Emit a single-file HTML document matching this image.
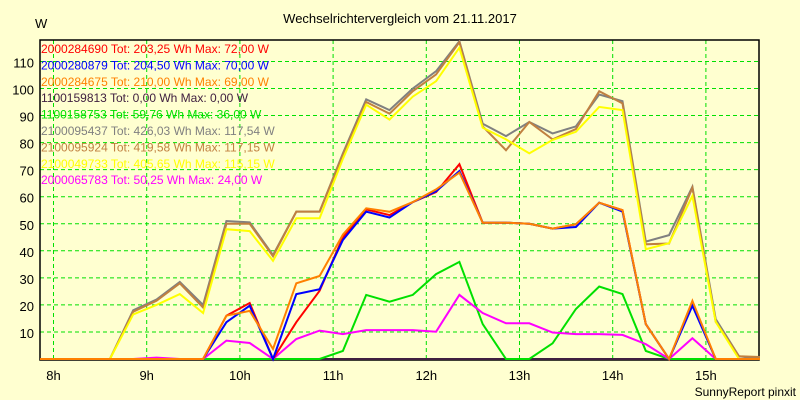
<!DOCTYPE html>
<html><head><meta charset="utf-8"><style>
html,body{margin:0;padding:0;background:#ffffd0;}
svg{display:block;font-family:"Liberation Sans",sans-serif;}
</style></head><body>
<svg id="chart" width="800" height="400">
<rect x="0" y="0" width="800" height="400" fill="#ffffd0"/>
<text x="400" y="23" text-anchor="middle" font-size="13" fill="#000">Wechselrichtervergleich vom 21.11.2017</text>
<text x="35" y="28" font-size="13" fill="#000">W</text>
<g id="grid"></g>
<rect x="40" y="40" width="719" height="320" fill="none" stroke="#000" stroke-width="1.5"/>
<g id="series"></g>
<g id="legend"></g>
<g id="axes"></g>
<text x="796" y="396" text-anchor="end" font-size="12" fill="#000">SunnyReport pinxit</text>
</svg>
<script>
const yTicks = [10,20,30,40,50,60,70,80,90,100,110];
const xHours = [8,9,10,11,12,13,14,15];
const xLabels = ["8h","9h","10h","11h","12h","13h","14h","15h"];
const names = ["2000284690","2000280879","2000284675","1100159813","1100158753","2100095437","2100095924","2100049733","2000065783"];
const legendTexts = ["2000284690 Tot: 203,25 Wh Max: 72,00 W","2000280879 Tot: 204,50 Wh Max: 70,00 W","2000284675 Tot: 210,00 Wh Max: 69,00 W","1100159813 Tot: 0,00 Wh Max: 0,00 W","1100158753 Tot: 59,76 Wh Max: 36,00 W","2100095437 Tot: 426,03 Wh Max: 117,54 W","2100095924 Tot: 419,58 Wh Max: 117,15 W","2100049733 Tot: 405,65 Wh Max: 115,15 W","2000065783 Tot: 50,25 Wh Max: 24,00 W"];
const colors = ["#ff0000","#0000ff","#ff8000","#402040","#00e000","#808080","#c08040","#ffff00","#ff00ff"];
const sRed    = [0,0,0,0,0,0,0,0,16,20.7,0,13.6,25.2,45,55.3,53.2,58,61.7,72,50.4,50.4,50,48.2,49.8,57.8,55,12.9,0,20.5,0,0,0];
const sBlue   = [0,0,0,0,0,0,0,0,13.6,19.7,0,24,25.8,44,54.5,52.3,58,62,69.5,50.4,50.4,50,48.2,48.8,57.8,54.5,12.9,0,19.7,0,0,0];
const sOrange = [0,0,0,0,0,0,0,0,16,17.8,3.7,28,30.7,46,55.7,54.4,58,62.7,68.9,50.4,50.4,50,48.2,49.8,57.8,55,12.9,0,21.5,0,0,0];
const sDark   = [0,0,0,0,0,0,0,0,0,0,0,0,0,0,0,0,0,0,0,0,0,0,0,0,0,0,0,0,0,0,0,0];
const sGreen  = [0,0,0,0,0,0,0,0,0,0,0,0,0,3,23.7,21.2,23.7,31.4,35.9,12.9,0,0,5.8,18.5,26.8,24,3,0,0,0,0,0];
const sGrey   = [0,0,0,0,18,22,28.5,20,51,50.5,38.4,54.5,54.5,76,96,92,100,106.4,117.5,87,82.4,87.6,83.4,86,97.8,95.3,43.4,45.8,63.7,14.8,1,0];
const sBrown  = [0,0,0,0,17.5,21.5,28,19,50,50,38,54.5,54.5,75.5,95,90.7,99,105.2,117.1,86,77.2,87.6,81.2,85,99,94.5,42.4,42.7,63.3,13.8,1,0.7];
const sYellow = [0,0,0,0,16.5,20,24,17,48,47.3,36.3,52,52,74,94,88.5,97,102.7,115.1,85.5,81.2,76,81,84,93.2,92,40.6,42.8,60.3,13.8,0,0];
const sMagenta= [0,0,0,0,0,0.5,0,0,6.8,5.9,0,7.4,10.5,9.2,10.7,10.7,10.7,10.1,23.7,17,13.2,13.2,9.8,9.2,9.2,8.9,5.5,0,7.7,0,0,0];
const allSeries = [sRed,sBlue,sOrange,sDark,sGreen,sGrey,sBrown,sYellow,sMagenta];
const drawOrder = [3,5,6,7,4,8,0,1,2];

const NS="http://www.w3.org/2000/svg";
const xSlot = i => 40 + 23.3*i;
const xHour = h => 53.5 + 93.2*(h-8);
const yVal = v => 359 - 2.705*v;
function mk(tag, attrs, parent){const e=document.createElementNS(NS,tag);for(const k in attrs)e.setAttribute(k,attrs[k]);parent.appendChild(e);return e;}
const grid=document.getElementById('grid'), axes=document.getElementById('axes'), ser=document.getElementById('series'), leg=document.getElementById('legend');
yTicks.forEach(t=>{
  const l=mk('line',{x1:40,x2:759,y1:yVal(t),y2:yVal(t),stroke:'#00e000','stroke-dasharray':'4,3','stroke-width':1},grid);
  
  
  const tx=mk('text',{x:34,y:yVal(t)+6,'text-anchor':'end','font-size':13,fill:'#000'},axes);
  tx.textContent=t;
  
  
});
xHours.forEach((h,k)=>{
  const l=mk('line',{x1:xHour(h),x2:xHour(h),y1:40,y2:360,stroke:'#00e000','stroke-dasharray':'4,3','stroke-width':1},grid);
  
  
  const tx=mk('text',{x:xHour(h),y:380,'text-anchor':'middle','font-size':13,fill:'#000'},axes);
  tx.textContent=xLabels[k];
  
  
});
const clip=mk('clipPath',{id:'pc'},mk('defs',{},document.getElementById('chart')));
mk('rect',{x:40,y:40,width:720,height:322},clip);
ser.setAttribute('clip-path','url(#pc)');
drawOrder.forEach(si=>{
  const d=allSeries[si].map((v,i)=>xSlot(i).toFixed(1)+','+yVal(v).toFixed(1)).join(' ');
  const p=mk('polyline',{points:d,fill:'none',stroke:colors[si],'stroke-width':2,'stroke-linejoin':'miter'},ser);
  
  
});
legendTexts.forEach((t,i)=>{
  const tx=mk('text',{x:41,y:53+16.4*i,'font-size':12,fill:colors[i]},leg);
  tx.textContent=t;
  
  
});
</script>
</body></html>
